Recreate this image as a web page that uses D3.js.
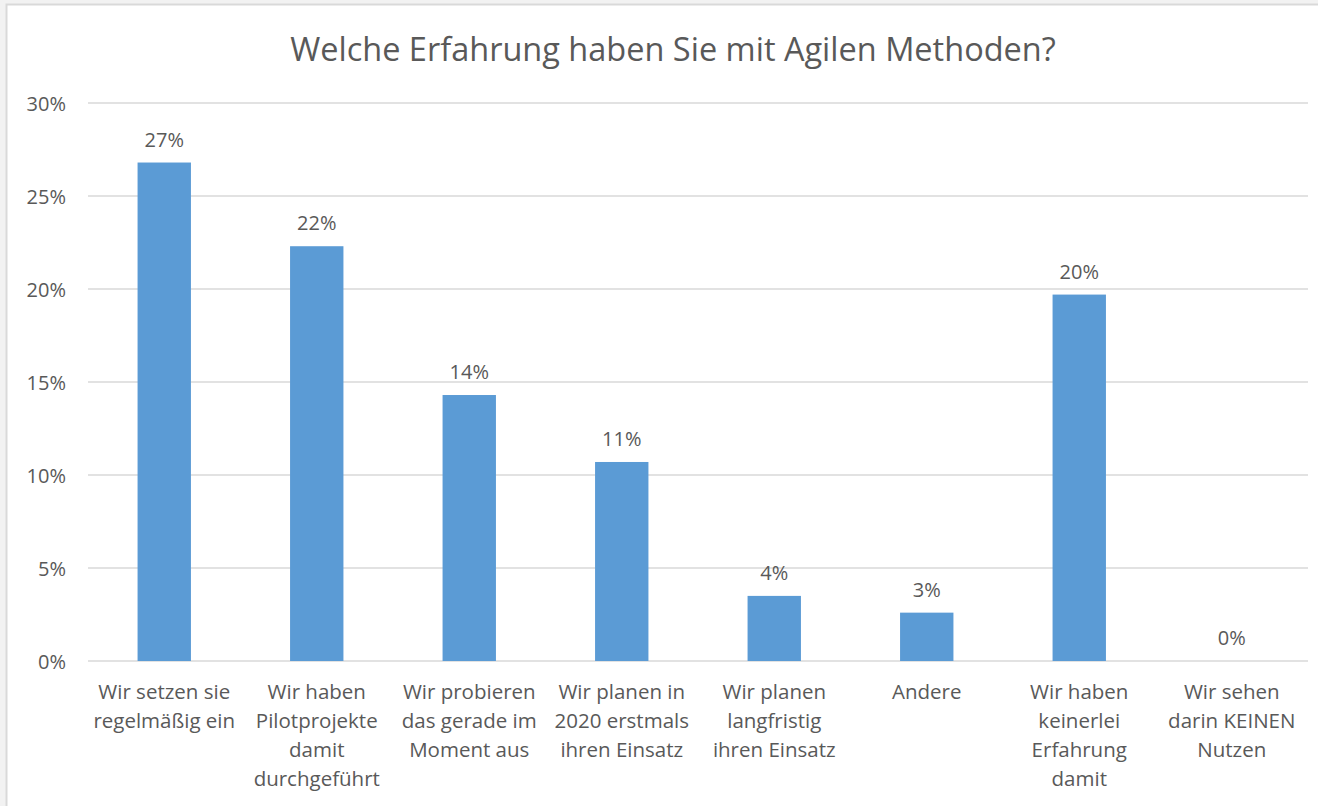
<!DOCTYPE html>
<html>
<head>
<meta charset="utf-8">
<script src="https://cdn.jsdelivr.net/npm/d3@7"></script>
<style>
  body { margin: 0; background: #f2f2f2; }
  svg { display: block; }
  text { font-family: "Open Sans", Lato, sans-serif; fill: #595959; }
</style>
</head>
<body>
<script>
var WIDTH = 1318,
    HEIGHT = 806;

var title = "Welche Erfahrung haben Sie mit Agilen Methoden?";

// categories (line breaks as in the picture)
var categories = [
  ["Wir setzen sie", "regelmäßig ein"],
  ["Wir haben", "Pilotprojekte", "damit", "durchgeführt"],
  ["Wir probieren", "das gerade im", "Moment aus"],
  ["Wir planen in", "2020 erstmals", "ihren Einsatz"],
  ["Wir planen", "langfristig", "ihren Einsatz"],
  ["Andere"],
  ["Wir haben", "keinerlei", "Erfahrung", "damit"],
  ["Wir sehen", "darin KEINEN", "Nutzen"]
];

var values = [0.268, 0.223, 0.143, 0.107, 0.035, 0.026, 0.197, 0.0];

var yTicks = [0, 0.05, 0.10, 0.15, 0.20, 0.25, 0.30];

var margin = {top: 103, right: 10, bottom: 145, left: 88};

var svg = d3.select("body").append("svg")
    .attr("width", WIDTH)
    .attr("height", HEIGHT);

// chart area with border
svg.append("rect")
    .attr("x", 6.5).attr("y", 4.5)
    .attr("width", WIDTH + 10).attr("height", HEIGHT + 10)
    .style("fill", "#ffffff")
    .style("stroke", "#d9d9d9")
    .style("stroke-width", 2);

var x = d3.scaleBand()
    .domain(d3.range(categories.length))
    .range([margin.left, 1308])
    .paddingInner(0.65)
    .paddingOuter(0.325);

var y = d3.scaleLinear()
    .domain([0, 0.30])
    .range([661, 103]);

// title
svg.append("text")
    .attr("x", 673)
    .attr("y", 61)
    .attr("text-anchor", "middle")
    .style("font-size", "32.5px")
    .text(title);

// gridlines
svg.append("g")
  .selectAll("line")
  .data(yTicks)
  .join("line")
    .attr("x1", margin.left)
    .attr("x2", 1308)
    .attr("y1", function(d){ return y(d); })
    .attr("y2", function(d){ return y(d); })
    .style("stroke", "#d9d9d9")
    .style("stroke-width", 1.5);

// y axis labels
var yAxis = d3.axisLeft(y)
    .tickValues(yTicks)
    .tickFormat(d3.format(".0%"))
    .tickSize(0)
    .tickPadding(0);

var yg = svg.append("g")
    .attr("transform", "translate(66,0)")
    .call(yAxis);
yg.select(".domain").remove();
yg.selectAll("text")
    .style("font-size", "20px")
    .style("font-family", null)
    .attr("dy", "0.35em");

// bars
svg.append("g")
  .selectAll("rect")
  .data(values)
  .join("rect")
    .attr("x", function(d, i){ return x(i); })
    .attr("y", function(d){ return y(d); })
    .attr("width", x.bandwidth())
    .attr("height", function(d){ return y(0) - y(d); })
    .style("fill", "#5b9bd5");

// data labels
svg.append("g")
  .selectAll("text")
  .data(values)
  .join("text")
    .attr("x", function(d, i){ return x(i) + x.bandwidth() / 2; })
    .attr("y", function(d){ return y(d) - 16; })
    .attr("text-anchor", "middle")
    .style("font-size", "20px")
    .text(function(d){ return d3.format(".0%")(d); });

// category labels
var xAxis = d3.axisBottom(x)
    .tickSize(0)
    .tickFormat("");

var xg = svg.append("g")
    .attr("transform", "translate(0," + y(0) + ")")
    .call(xAxis);
xg.select(".domain").remove();

xg.selectAll(".tick")
  .append("text")
    .attr("text-anchor", "middle")
    .style("font-size", "20.5px")
  .selectAll("tspan")
  .data(function(d){ return categories[d]; })
  .join("tspan")
    .attr("x", 0)
    .attr("y", function(d, i){ return 38 + i * 29; })
    .text(function(d){ return d; });
</script>
</body>
</html>
